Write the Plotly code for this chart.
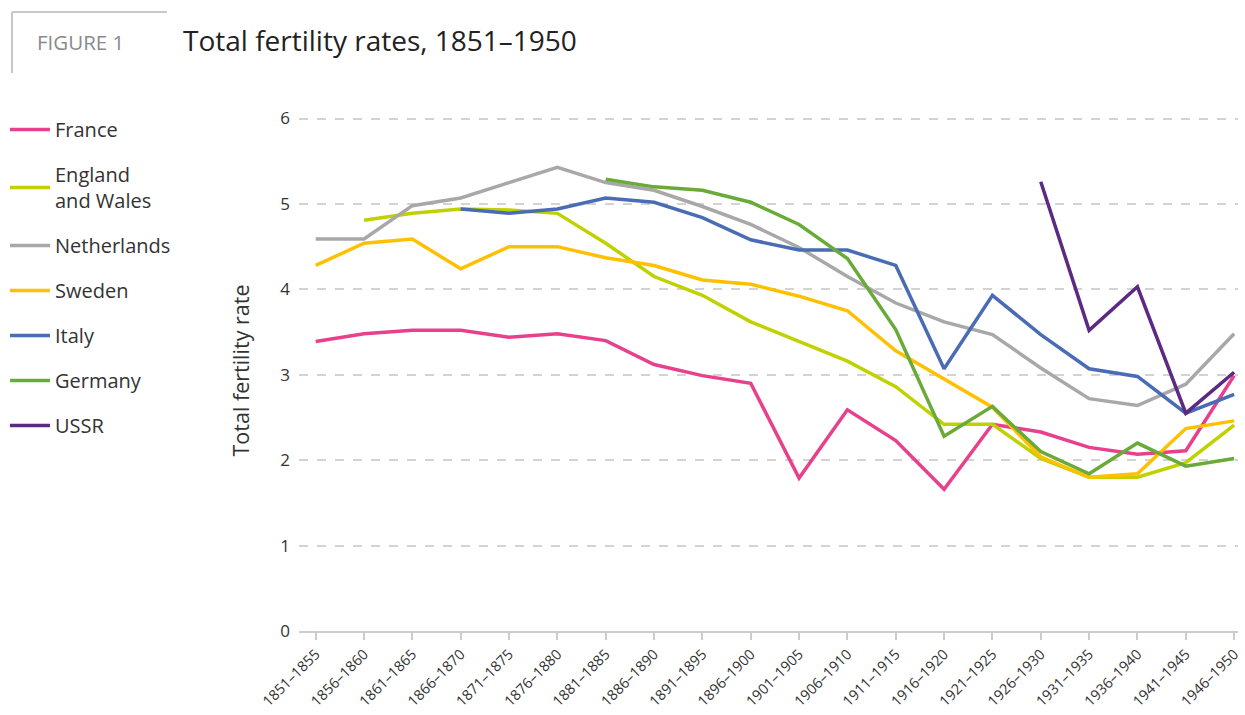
import plotly.graph_objects as go

periods = [
    "1851–1855", "1856–1860", "1861–1865", "1866–1870", "1871–1875",
    "1876–1880", "1881–1885", "1886–1890", "1891–1895", "1896–1900",
    "1901–1905", "1906–1910", "1911–1915", "1916–1920", "1921–1925",
    "1926–1930", "1931–1935", "1936–1940", "1941–1945", "1946–1950",
]

N = None
france = [3.39, 3.48, 3.52, 3.52, 3.44, 3.48, 3.40, 3.12, 2.99, 2.90,
          1.79, 2.59, 2.23, 1.66, 2.42, 2.33, 2.15, 2.07, 2.11, 2.99]
england = [N, 4.81, 4.89, 4.94, 4.93, 4.89, 4.54, 4.15, 3.93, 3.62,
           3.39, 3.16, 2.86, 2.42, 2.42, 2.02, 1.80, 1.80, 1.97, 2.41]
netherlands = [4.59, 4.59, 4.98, 5.07, 5.25, 5.43, 5.25, 5.16, 4.97, 4.76,
               4.49, 4.15, 3.84, 3.62, 3.47, 3.08, 2.72, 2.64, 2.89, 3.48]
sweden = [4.28, 4.54, 4.59, 4.24, 4.50, 4.50, 4.37, 4.28, 4.11, 4.06,
          3.92, 3.75, 3.28, 2.95, 2.62, 2.04, 1.80, 1.84, 2.37, 2.46]
italy = [N, N, N, 4.94, 4.89, 4.94, 5.07, 5.02, 4.84, 4.58,
         4.46, 4.46, 4.28, 3.07, 3.93, 3.47, 3.07, 2.98, 2.55, 2.77]
germany = [N, N, N, N, N, N, 5.29, 5.20, 5.16, 5.02,
           4.76, 4.36, 3.53, 2.28, 2.63, 2.10, 1.84, 2.20, 1.93, 2.02]
ussr = [N, N, N, N, N, N, N, N, N, N,
        N, N, N, N, N, 5.26, 3.52, 4.03, 2.55, 3.03]

series = [
    ("France", france, "#E8408C"),
    ("England<br>and Wales", england, "#BFD200"),
    ("Netherlands", netherlands, "#A8A8A8"),
    ("Sweden", sweden, "#FFC000"),
    ("Italy", italy, "#4A6CB5"),
    ("Germany", germany, "#6AAA38"),
    ("USSR", ussr, "#5C2A82"),
]

W, H = 1245, 715
L, R, T, B = 299, 7, 110, 84
pw, ph = W - L - R, H - T - B


def px(x):
    return (x - L) / pw


def py(y):
    return (H - B - y) / ph


FONT = "Open Sans, Lato, sans-serif"

fig = go.Figure()
for i, (name, vals, color) in enumerate(series):
    fig.add_trace(go.Scatter(
        x=periods, y=vals, name=name, mode="lines",
        line={"color": color, "width": 3.5},
        legendgroup=f"g{i}",
        connectgaps=False,
    ))

fig.update_layout(
    width=W, height=H,
    margin={"l": L, "r": R, "t": T, "b": B, "autoexpand": False},
    paper_bgcolor="white", plot_bgcolor="white",
    font={"family": FONT, "color": "#333333"},
    showlegend=True,
    legend={
        "x": px(5), "y": py(110), "xanchor": "left", "yanchor": "top",
        "font": {"size": 20, "color": "#333333"},
        "tracegroupgap": 16, "itemwidth": 40,
        "bgcolor": "rgba(0,0,0,0)",
    },
    xaxis={
        "type": "category", "range": [-0.345, 19.08], "automargin": False,
        "showgrid": False, "showline": True, "linecolor": "#cccccc", "linewidth": 2,
        "ticks": "outside", "ticklen": 7, "tickcolor": "#cccccc", "tickwidth": 1.5,
        "tickangle": -45, "tickfont": {"size": 14.5, "color": "#333333"},
        "zeroline": False,
    },
    yaxis={
        "range": [0, 6.1], "tickvals": [0, 1, 2, 3, 4, 5, 6], "automargin": False,
        "showgrid": True, "gridcolor": "#d3d3d3", "griddash": "dash", "gridwidth": 1.5,
        "zeroline": False, "showline": False,
        "tickfont": {"size": 17, "color": "#333333"},
        "ticklabelstandoff": 8,
        "title": {"text": "Total fertility rate", "font": {"size": 21.5, "color": "#333333"},
                  "standoff": 24},
    },
    shapes=[
        {"type": "line", "xref": "paper", "yref": "paper",
         "x0": px(12), "x1": px(167), "y0": py(12), "y1": py(12),
         "line": {"color": "#c8c8c8", "width": 2}},
        {"type": "line", "xref": "paper", "yref": "paper",
         "x0": px(12), "x1": px(12), "y0": py(12), "y1": py(73),
         "line": {"color": "#c8c8c8", "width": 2}},
    ],
    annotations=[
        {"text": "FIGURE 1", "xref": "paper", "yref": "paper",
         "x": px(35), "y": py(42), "xanchor": "left", "yanchor": "middle",
         "showarrow": False, "font": {"size": 20.5, "color": "#8a8a8a", "family": FONT}},
        {"text": "Total fertility rates, 1851–1950", "xref": "paper", "yref": "paper",
         "x": px(181), "y": py(40), "xanchor": "left", "yanchor": "middle",
         "showarrow": False, "font": {"size": 28, "color": "#222222", "family": FONT}},
    ],
)

# drop the default 8px page margin so pixel positions line up
fig.write_html("out.html", config={"displayModeBar": False},
               post_script="document.body.style.margin='0px';")
